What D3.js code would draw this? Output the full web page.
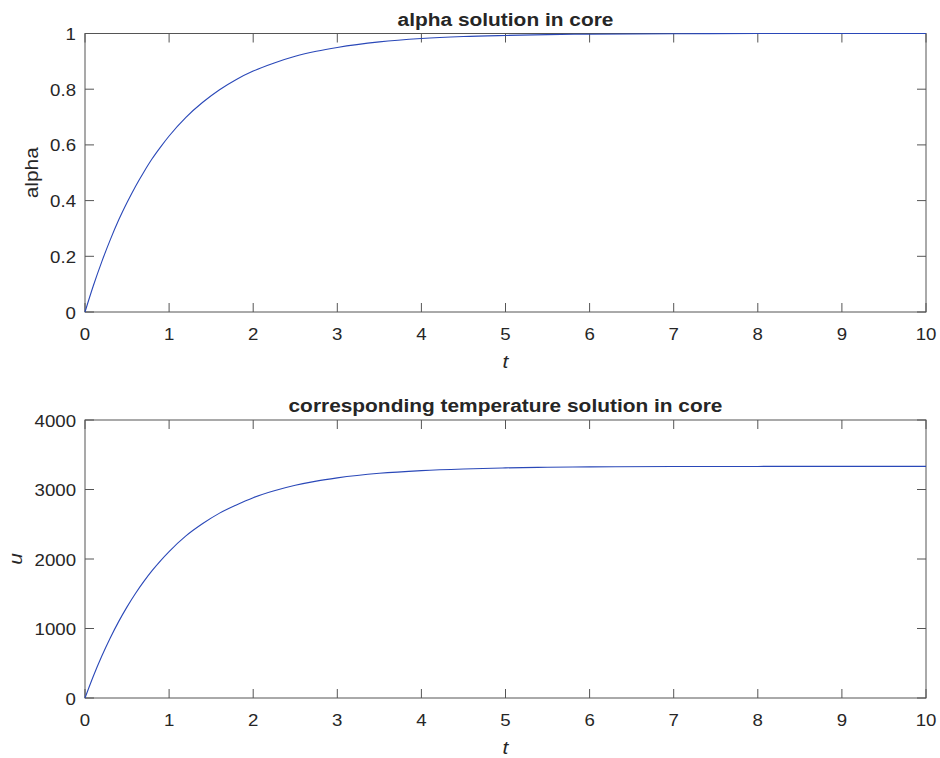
<!DOCTYPE html>
<html>
<head>
<meta charset="utf-8">
<script src="https://cdn.jsdelivr.net/npm/d3@7"></script>
<style>
  body { margin: 0; background: #fff; }
  text { font-family: "Liberation Sans", Arial, Helvetica, sans-serif; fill: #262626; }
</style>
</head>
<body>
<div id="chart"></div>
<script>
// values
const tValues = [0, 0.1, 0.2, 0.3, 0.4, 0.5, 0.6, 0.7, 0.8, 0.9, 1, 1.2, 1.4, 1.6, 1.8, 2,
  2.25, 2.5, 2.75, 3, 3.5, 4, 4.5, 5, 5.5, 6, 7, 8, 9, 10];
const alphaValues = [0, 0.095, 0.181, 0.259, 0.33, 0.393, 0.451, 0.503, 0.551, 0.593, 0.632, 0.699, 0.753, 0.798, 0.835, 0.865,
  0.894, 0.918, 0.936, 0.95, 0.97, 0.982, 0.989, 0.993, 0.996, 0.9975, 0.999, 1.0, 1.0, 1.0];
const uValues = [0, 317, 604, 864, 1099, 1311, 1504, 1678, 1836, 1978, 2107, 2332, 2510, 2660, 2778, 2882,
  2981, 3060, 3121, 3167, 3233, 3272, 3296, 3311, 3320, 3325, 3330, 3332, 3333, 3333];
const xTicks = [0, 1, 2, 3, 4, 5, 6, 7, 8, 9, 10];
const alphaTicks = [0, 0.2, 0.4, 0.6, 0.8, 1];
const uTicks = [0, 1000, 2000, 3000, 4000];

const width = 940, height = 758
  , left = 85, right = 926
  , tickLen = 9
  , stretch = 1.13
  , lineColor = "#2a48b8"
  , axisColor = "#555";

const svg = d3.select("#chart").append("svg")
  .attr("width", width)
  .attr("height", height);

// the reference text is a bit wider than Liberation Sans, so stretch it sideways
function addText(g, x, y, str, size, anchor, rotate) {
  return g.append("text")
    .attr("transform", "translate(" + x + "," + y + ")" + (rotate ? " rotate(-90)" : "") + " scale(" + stretch + ",1)")
    .attr("text-anchor", anchor)
    .style("font-size", size + "px")
    .text(str);
}

function drawPanel(opts) {
  const x = d3.scaleLinear().domain([0, 10]).range([left, right]);
  const y = d3.scaleLinear().domain(opts.yDomain).range([opts.bottom, opts.top]);
  const g = svg.append("g");

  // box
  g.append("rect")
    .attr("x", left).attr("y", opts.top)
    .attr("width", right - left).attr("height", opts.bottom - opts.top)
    .style("fill", "none").style("stroke", axisColor).style("stroke-width", 1);

  // ticks on all four sides, pointing in
  xTicks.forEach(function(d) {
    g.append("line").attr("x1", x(d)).attr("x2", x(d))
      .attr("y1", opts.bottom).attr("y2", opts.bottom - tickLen)
      .style("stroke", axisColor);
    g.append("line").attr("x1", x(d)).attr("x2", x(d))
      .attr("y1", opts.top).attr("y2", opts.top + tickLen)
      .style("stroke", axisColor);
    addText(g, x(d), opts.bottom + 28, d, 16.5, "middle");
  });
  opts.yTicks.forEach(function(d) {
    g.append("line").attr("x1", left).attr("x2", left + tickLen)
      .attr("y1", y(d)).attr("y2", y(d)).style("stroke", axisColor);
    g.append("line").attr("x1", right).attr("x2", right - tickLen)
      .attr("y1", y(d)).attr("y2", y(d)).style("stroke", axisColor);
    addText(g, left - 9, y(d) + 6.5, d, 16.5, "end");
  });

  // curve
  const line = d3.line()
    .x(function(d, i) { return x(tValues[i]); })
    .y(function(d) { return y(d); })
    .curve(d3.curveMonotoneX);
  g.append("path").datum(opts.values)
    .attr("d", line)
    .style("fill", "none").style("stroke", lineColor).style("stroke-width", 1.1);

  // labels
  addText(g, (left + right) / 2, opts.top - 8, opts.title, 18.5, "middle")
    .style("font-weight", "bold");
  addText(g, (left + right) / 2, opts.bottom + 56, "t", 18.5, "middle")
    .style("font-style", "italic");
  addText(g, opts.yLabelX, (opts.top + opts.bottom) / 2, opts.yLabel, 18.5, "middle", true)
    .style("font-style", opts.yItalic ? "italic" : "normal");
}

drawPanel({ top: 33.5, bottom: 312, yDomain: [0, 1], yTicks: alphaTicks, values: alphaValues,
  title: "alpha solution in core", yLabel: "alpha", yLabelX: 38, yItalic: false });
drawPanel({ top: 420, bottom: 698, yDomain: [0, 4000], yTicks: uTicks, values: uValues,
  title: "corresponding temperature solution in core", yLabel: "u", yLabelX: 22, yItalic: true });
</script>
</body>
</html>
